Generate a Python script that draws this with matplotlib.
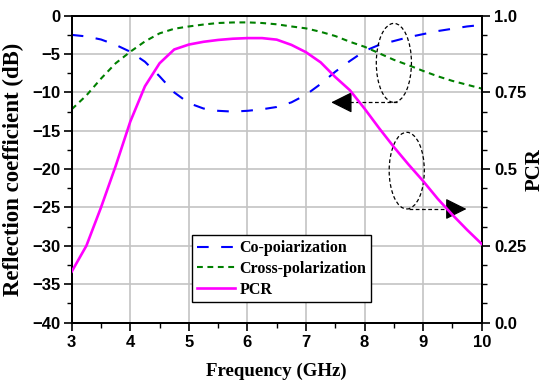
import matplotlib
matplotlib.use("Agg")
import matplotlib.pyplot as plt
from matplotlib.patches import Ellipse
from matplotlib.ticker import MultipleLocator

# ---- data ----
freq = [3.0, 3.25, 3.5, 3.75, 4.0, 4.25, 4.5, 4.75, 5.0, 5.25, 5.5, 5.75, 6.0, 6.25,
        6.5, 6.75, 7.0, 7.25, 7.5, 7.75, 8.0, 8.25, 8.5, 8.75, 9.0, 9.25, 9.5, 9.75, 10.0]
co_pol = [-2.5, -2.7, -3.1, -3.8, -4.7, -6.0, -7.9, -10.0, -11.4, -12.1, -12.4, -12.5,
          -12.4, -12.2, -11.9, -11.3, -10.3, -8.9, -7.3, -5.9, -4.6, -3.8, -3.3, -2.8,
          -2.4, -2.0, -1.7, -1.4, -1.2]
cross_pol = [-12.2, -10.4, -8.2, -6.2, -4.7, -3.35, -2.3, -1.7, -1.4, -1.15, -0.95, -0.88,
             -0.87, -0.95, -1.12, -1.4, -1.65, -2.1, -2.65, -3.4, -4.05, -4.9, -5.75, -6.45,
             -7.2, -7.9, -8.5, -9.0, -9.5]
pcr = [0.166, 0.25, 0.375, 0.51, 0.655, 0.77, 0.845, 0.89, 0.906, 0.915, 0.921, 0.925,
       0.927, 0.927, 0.922, 0.905, 0.881, 0.848, 0.80, 0.757, 0.697, 0.633, 0.572, 0.515,
       0.461, 0.403, 0.351, 0.302, 0.256]
series_labels = ["Co-poiarization", "Cross-polarization", "PCR"]
x_ticks = [3, 4, 5, 6, 7, 8, 9, 10]
left_ticks = [-40, -35, -30, -25, -20, -15, -10, -5, 0]
right_ticks = [0.0, 0.25, 0.5, 0.75, 1.0]
right_tick_labels = ["0.0", "0.25", "0.5", "0.75", "1.0"]

serif = ["Liberation Serif", "DejaVu Serif"]
sans = ["Liberation Sans", "DejaVu Sans"]

fig = plt.figure(figsize=(5.45, 3.88), dpi=100)
ax = fig.add_axes([0.1316, 0.1688, 0.7523, 0.7907])
ax2 = ax.twinx()

l1, = ax.plot(freq, co_pol, color="#0000ff", lw=1.5, dashes=(5.6, 6.0), zorder=3)
l2, = ax.plot(freq, cross_pol, color="#008000", lw=1.5, dashes=(2.8, 2.2), zorder=3)
l3, = ax2.plot(freq, pcr, color="#ff00ff", lw=1.9, zorder=3)

ax.set_xlim(3, 10)
ax.set_ylim(-40, 0)
ax2.set_ylim(0, 1)

ax.set_xticks(x_ticks)
ax.xaxis.set_minor_locator(MultipleLocator(0.5))
ax.set_yticks(left_ticks)
ax.yaxis.set_minor_locator(MultipleLocator(2.5))
ax2.set_yticks(right_ticks)
ax2.set_yticklabels(right_tick_labels)
ax2.yaxis.set_minor_locator(MultipleLocator(0.0625))

ax.grid(True, which="major", color="#c4c4c4", lw=1.2, zorder=0)
ax.set_axisbelow(True)

for a in (ax, ax2):
    for s in a.spines.values():
        s.set_linewidth(1.4)
    a.tick_params(which="major", direction="out", length=6, width=1.2)
    a.tick_params(which="minor", direction="out", length=3.5, width=1.0)
ax.tick_params(top=False, right=False, which="both")
ax2.tick_params(left=False, which="both")

for lab in ax.get_xticklabels() + ax.get_yticklabels() + ax2.get_yticklabels():
    lab.set_fontfamily(sans)
    lab.set_fontweight("bold")
    lab.set_fontsize(12)
ax.tick_params(axis="x", pad=3)
ax.tick_params(axis="y", pad=2)
ax2.tick_params(axis="y", pad=3)

ax.set_xlabel("Frequency (GHz)", family=serif, weight="bold", fontsize=13.6, labelpad=9)
ax.set_ylabel("Reflection coefficient (dB)", family=serif, weight="bold", fontsize=16.5, labelpad=6)
ax2.set_ylabel("PCR", family=serif, weight="bold", fontsize=15, labelpad=-1)

# annotations: ellipses with arrows
e1 = Ellipse((8.5, -6.15), 0.6, 10.3, fill=False, ec="black", lw=0.9, ls=(0, (3, 2)), zorder=4)
e2 = Ellipse((8.72, -20.2), 0.6, 10.0, fill=False, ec="black", lw=0.9, ls=(0, (3, 2)), zorder=4)
ax.add_patch(e1)
ax.add_patch(e2)
ax.plot([8.55, 7.62], [-11.3, -11.3], color="black", lw=0.9, ls=(0, (3, 2)), zorder=4)
ax.plot([8.75, 9.5], [-25.2, -25.2], color="black", lw=0.9, ls=(0, (3, 2)), zorder=4, clip_on=False)
ax.annotate("", xy=(7.43, -11.3), xytext=(7.66, -11.3),
            arrowprops=dict(arrowstyle="-|>,head_length=0.6,head_width=0.3", color="black",
                            lw=0.9, shrinkA=0, shrinkB=0, mutation_scale=22), zorder=5)
ax.annotate("", xy=(9.74, -25.2), xytext=(9.5, -25.2),
            arrowprops=dict(arrowstyle="-|>,head_length=0.6,head_width=0.3", color="black",
                            lw=0.9, shrinkA=0, shrinkB=0, mutation_scale=22), zorder=5)

leg = ax2.legend([l1, l2, l3], series_labels, loc="upper left",
                 bbox_to_anchor=(0.2927, 0.2842), borderaxespad=0, fancybox=False,
                 edgecolor="black", framealpha=1, handlelength=2.4, handletextpad=0.3,
                 borderpad=0.3, labelspacing=0.3,
                 prop=dict(family=serif, weight="bold", size=11.5))
leg.get_frame().set_linewidth(1.0)

fig.savefig("out.png", dpi=100)
